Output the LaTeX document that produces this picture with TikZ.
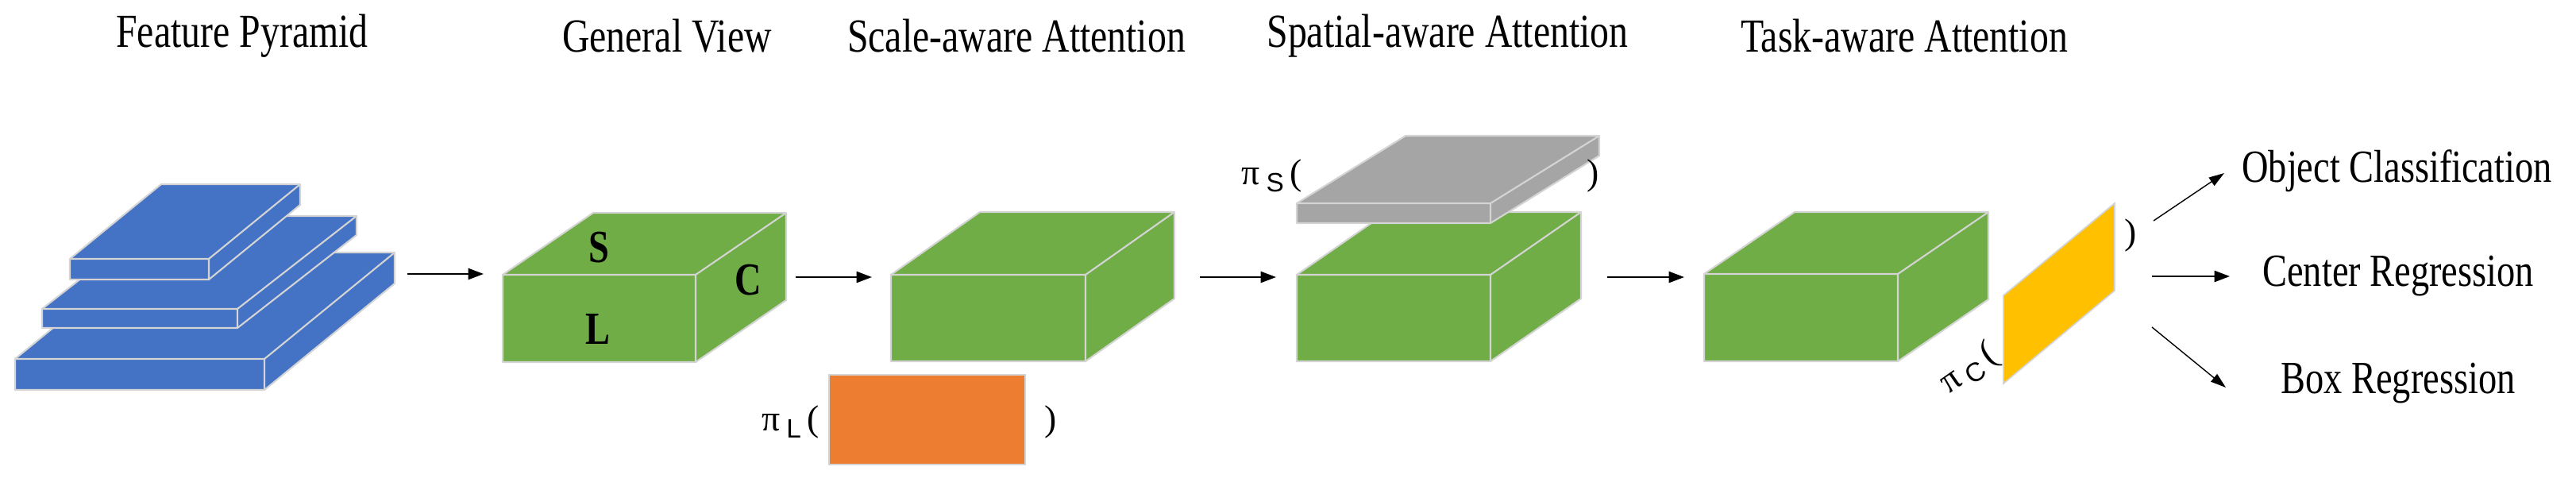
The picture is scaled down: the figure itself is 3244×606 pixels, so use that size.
\documentclass[tikz,border=0pt]{standalone}
\usepackage{fontspec}
\setmainfont{Liberation Serif}
\setsansfont{Liberation Sans}
\usetikzlibrary{arrows.meta}
\definecolor{cblue}{HTML}{4472C4}
\definecolor{cgreen}{HTML}{70AD47}
\definecolor{cgray}{HTML}{A5A5A5}
\definecolor{corange}{HTML}{ED7D31}
\definecolor{cyellow}{HTML}{FFC000}
\definecolor{cedge}{HTML}{D4D4D4}
% #1 x-left #2 y-top #3 x-right #4 y-bottom #5 dx #6 dy #7 colour
\newcommand\mybox[7]{%
  \fill[#7,draw=cedge,line width=1.2pt,line join=round]
    (#1,#2) -- ++(#5,#6) -- ++(#3-#1,0) -- (#3+#5,#4+#6) -- (#3,#4) -- (#1,#4) -- cycle;
  \draw[cedge,line width=1.2pt] (#1,#2) -- (#3,#2) -- (#3,#4) (#3,#2) -- ++(#5,#6);
}
\newcommand\cond[1]{\scalebox{0.8}[1]{#1}}
\tikzset{
  x=0.02cm, y=-0.02cm,
  title/.style={font=\fontsize{34}{36}\selectfont, inner sep=0pt},
  outlbl/.style={font=\fontsize{33}{35}\selectfont, inner sep=0pt},
  dim/.style={font=\fontsize{33}{35}\selectfont\bfseries, inner sep=0pt},
  pil/.style={font=\fontsize{26}{28}\selectfont, inner sep=0pt},
  flow/.style={-{Triangle[length=11pt,width=8pt]}, line width=1.2pt},
  thinflow/.style={-{Triangle[length=11pt,width=7pt]}, line width=0.8pt},
}
\newcommand\mypi[1]{π\,{\sffamily\fontsize{19}{19}\selectfont\raisebox{-0.25em}{#1}}}
\begin{document}
\begin{tikzpicture}
\useasboundingbox (0,0) rectangle (3244,606);
% titles
\node[title] (t1) at (305,45) {\cond{Feature Pyramid}};
\node[title] (t2) at (840,45) {\cond{General View}};
\node[title] (t3) at (1280,45) {\cond{Scale-aware Attention}};
\node[title] (t4) at (1823,45) {\cond{Spatial-aware Attention}};
\node[title] (t5) at (2398,45) {\cond{Task-aware Attention}};
% feature pyramid
\mybox{19}{452}{333}{491}{164}{-134}{cblue}
\mybox{53}{389}{299}{413}{150}{-117}{cblue}
\mybox{88}{326}{263}{352}{115}{-94}{cblue}
% cube 1
\mybox{633}{346}{876}{456}{114}{-78}{cgreen}
\node[dim] (S) at (754,312) {\cond{S}};
\node[dim] (C) at (942,353) {\cond{C}};
\node[dim] (L) at (753,415) {\cond{L}};
% cube 2
\mybox{1122}{346}{1367}{455}{112}{-79}{cgreen}
% orange
\fill[corange,draw=cedge,line width=1.2pt] (1044,472) rectangle (1291,585);
\node[pil,anchor=east] (piL) at (1032,532) {\mypi{L}\,(};
\node[pil] (rpL) at (1323,532) {)};
% cube 3 and gray slab
\mybox{1633}{346}{1877}{455}{114}{-79}{cgreen}
\mybox{1633}{256}{1877}{281}{137}{-85}{cgray}
\node[pil,anchor=east] (piS) at (1640,222) {\mypi{S}\,(};
\node[pil] (rpS) at (2006,222) {)};
% cube 4
\mybox{2146}{345}{2390}{455}{114}{-78}{cgreen}
% yellow
\fill[cyellow,draw=cedge,line width=1pt] (2523,483) -- (2523,372) -- (2663,256) -- (2663,366) -- cycle;
\node[pil] (rpC) at (2683,297) {)};
\node[pil,rotate=35,anchor=south east] (piC) at (2524,460) {\mypi{C}\,(};
% arrows
\coordinate (a1s) at (513,345); \coordinate (a1e) at (609,345);
\coordinate (a2s) at (1002,349); \coordinate (a2e) at (1098,349);
\coordinate (a3s) at (1511,349); \coordinate (a3e) at (1607,349);
\coordinate (a4s) at (2024,349); \coordinate (a4e) at (2121,349);
\draw[flow] (a1s) -- (a1e);
\draw[flow] (a2s) -- (a2e);
\draw[flow] (a3s) -- (a3e);
\draw[flow] (a4s) -- (a4e);
% outputs
\node[outlbl,anchor=west] (oc) at (2823,215) {\cond{Object Classification}};
\node[outlbl,anchor=west] (cr) at (2849,348) {\cond{Center Regression}};
\node[outlbl,anchor=west] (br) at (2872,483) {\cond{Box Regression}};
\coordinate (o1) at (2712,278); \coordinate (o2) at (2710,348); \coordinate (o3) at (2710,412);
\coordinate (e1) at (2801,218); \coordinate (e2) at (2808,348); \coordinate (e3) at (2803,488);
\draw[thinflow] (o1) -- (e1);
\draw[flow] (o2) -- (e2);
\draw[thinflow] (o3) -- (e3);
\end{tikzpicture}
\end{document}
